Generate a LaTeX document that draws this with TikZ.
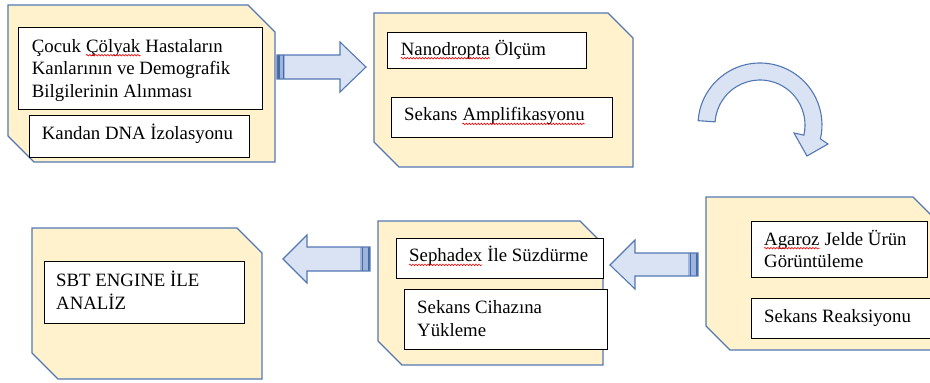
\documentclass[tikz,border=0pt]{standalone}
\usepackage{fontspec}
\setmainfont{Liberation Serif}
\usetikzlibrary{calc,decorations.pathmorphing}
\definecolor{pfill}{HTML}{FFF2CC}
\definecolor{pline}{HTML}{5477B3}
\definecolor{afill}{HTML}{DAE3F3}
\definecolor{sdark}{HTML}{46699F}
\definecolor{smid}{HTML}{9DB5DE}
\begin{document}
\begin{tikzpicture}[x=1pt,y=-1pt,
  panel/.style={fill=pfill,draw=pline,line width=1.2pt,line join=miter},
  inbox/.style={draw=black,fill=white,line width=0.9pt,anchor=north west,inner sep=0pt},
  txt/.style={anchor=base west,inner sep=0pt,font=\fontsize{18.8}{22.5}\selectfont},
  spellw/.style={draw=red,line width=0.6pt,decorate,decoration={snake,segment length=3pt,amplitude=0.8pt}},
  barrow/.style={fill=afill,draw=pline,line width=1.1pt,line join=miter},
  bline/.style={draw=pline,line width=1.1pt,line join=miter}]
\useasboundingbox (0,0) rectangle (930,383);
\clip (0,0) rectangle (930,383);
% panels
\draw[panel] (8,5) -- (248,5) -- (275,32) -- (275,162) -- (34,162) -- (8,136) -- cycle;
\draw[panel] (374,13) -- (608,13) -- (633,38) -- (633,167) -- (399,167) -- (374,142) -- cycle;
\draw[panel] (706,197) -- (913,197) -- (938,222) -- (938,350) -- (730,350) -- (706,326) -- cycle;
\draw[panel] (378,221) -- (580,221) -- (603,244) -- (603,365) -- (402,365) -- (378,341) -- cycle;
\draw[panel] (32,228) -- (237,228) -- (262,253) -- (262,379) -- (58,379) -- (32,353) -- cycle;
% inner boxes
\node[inbox,minimum width=244pt,minimum height=82pt] (b1) at (18,27) {};
\node[inbox,minimum width=220pt,minimum height=42pt] (b2) at (29,115) {};
\node[inbox,minimum width=199pt,minimum height=36pt] (b3) at (387,32) {};
\node[inbox,minimum width=221pt,minimum height=40pt] (b4) at (391,97) {};
\node[inbox,minimum width=176pt,minimum height=56pt] (b5) at (751,221) {};
\node[inbox,minimum width=185pt,minimum height=40pt] (b6) at (751,298) {};
\node[inbox,minimum width=207pt,minimum height=40pt] (b7) at (396,238) {};
\node[inbox,minimum width=203pt,minimum height=60pt] (b8) at (404,289) {};
\node[inbox,minimum width=200pt,minimum height=62pt] (b9) at (44,261) {};
% texts
\node[txt] (t1a) at (31.7,52) {Çocuk\ \mbox{}};
\node[txt] (s1) at (t1a.base east) {Çölyak};
\node[txt] (t1a2) at (s1.base east) {\ Hastaların};
\node[txt] (t1b) at (31.7,74.5) {Kanlarının ve Demografik};
\node[txt] (t1c) at (31.7,97) {Bilgilerinin Alınması};
\node[txt] (t2) at (41.7,139) {Kandan DNA İzolasyonu};
\node[txt] (s3) at (400.7,55) {Nanodropta};
\node[txt] (t3) at (s3.base east) {\ Ölçüm};
\node[txt] (t4) at (404,120.7) {Sekans\ \mbox{}};
\node[txt] (s4) at (t4.base east) {Amplifikasyonu};
\node[txt] (s5) at (764,245) {Agaroz};
\node[txt] (t5a) at (s5.base east) {\ Jelde Ürün};
\node[txt] (t5b) at (764,267) {Görüntüleme};
\node[txt] (t6) at (764,322.7) {Sekans Reaksiyonu};
\node[txt] (s7) at (409,261.7) {Sephadex};
\node[txt] (t7) at (s7.base east) {\ İle Süzdürme};
\node[txt] (t8a) at (417,313) {Sekans Cihazına};
\node[txt] (t8b) at (417,336.7) {Yükleme};
\node[txt] (t9a) at (56,286) {SBT ENGINE İLE};
\node[txt] (t9b) at (56,309) {ANALİZ};
% spelling marks
\foreach \w in {s1,s3,s4,s5,s7}
  \draw[spellw] ([yshift=-3.2pt]\w.base west) -- ([yshift=-3.2pt]\w.base east);
% arrow 1 (right)
\fill[afill] (277,55) -- (340,55) -- (340,42) -- (366,67) -- (340,92) -- (340,79) -- (277,79) -- cycle;
\fill[smid] (277,55) rectangle (285,79);
\fill[sdark] (277,55) rectangle (279.5,79);
\fill[sdark] (282.8,55) rectangle (284,79);
\draw[bline] (277,55) -- (340,55) -- (340,42) -- (366,67) -- (340,92) -- (340,79) -- (277,79) -- cycle;
% arrow 2 (left)
\fill[afill] (698,253) -- (635,253) -- (635,240) -- (610,265) -- (635,289) -- (635,276) -- (698,276) -- cycle;
\fill[smid] (688,253) rectangle (698,276);
\fill[sdark] (689.5,253) rectangle (690.8,276);
\fill[sdark] (695.5,253) rectangle (698,276);
\draw[bline] (698,253) -- (635,253) -- (635,240) -- (610,265) -- (635,289) -- (635,276) -- (698,276) -- cycle;
% arrow 3 (left)
\fill[afill] (370,247) -- (307,247) -- (307,235) -- (283,259) -- (307,283) -- (307,271) -- (370,271) -- cycle;
\fill[smid] (360,247) rectangle (370,271);
\fill[sdark] (361.5,247) rectangle (362.8,271);
\fill[sdark] (367.5,247) rectangle (370,271);
\draw[bline] (370,247) -- (307,247) -- (307,235) -- (283,259) -- (307,283) -- (307,271) -- (370,271) -- cycle;
% curved arrow
\coordinate (cc) at (760,125);
\draw[barrow] (cc) ++(184:62) arc[start angle=184,end angle=373,radius=62] -- (828,144) -- (807,156) -- (794,133) -- ($(cc)+(373:45)$) arc[start angle=373,end angle=184,radius=45] -- cycle;
\end{tikzpicture}
\end{document}
